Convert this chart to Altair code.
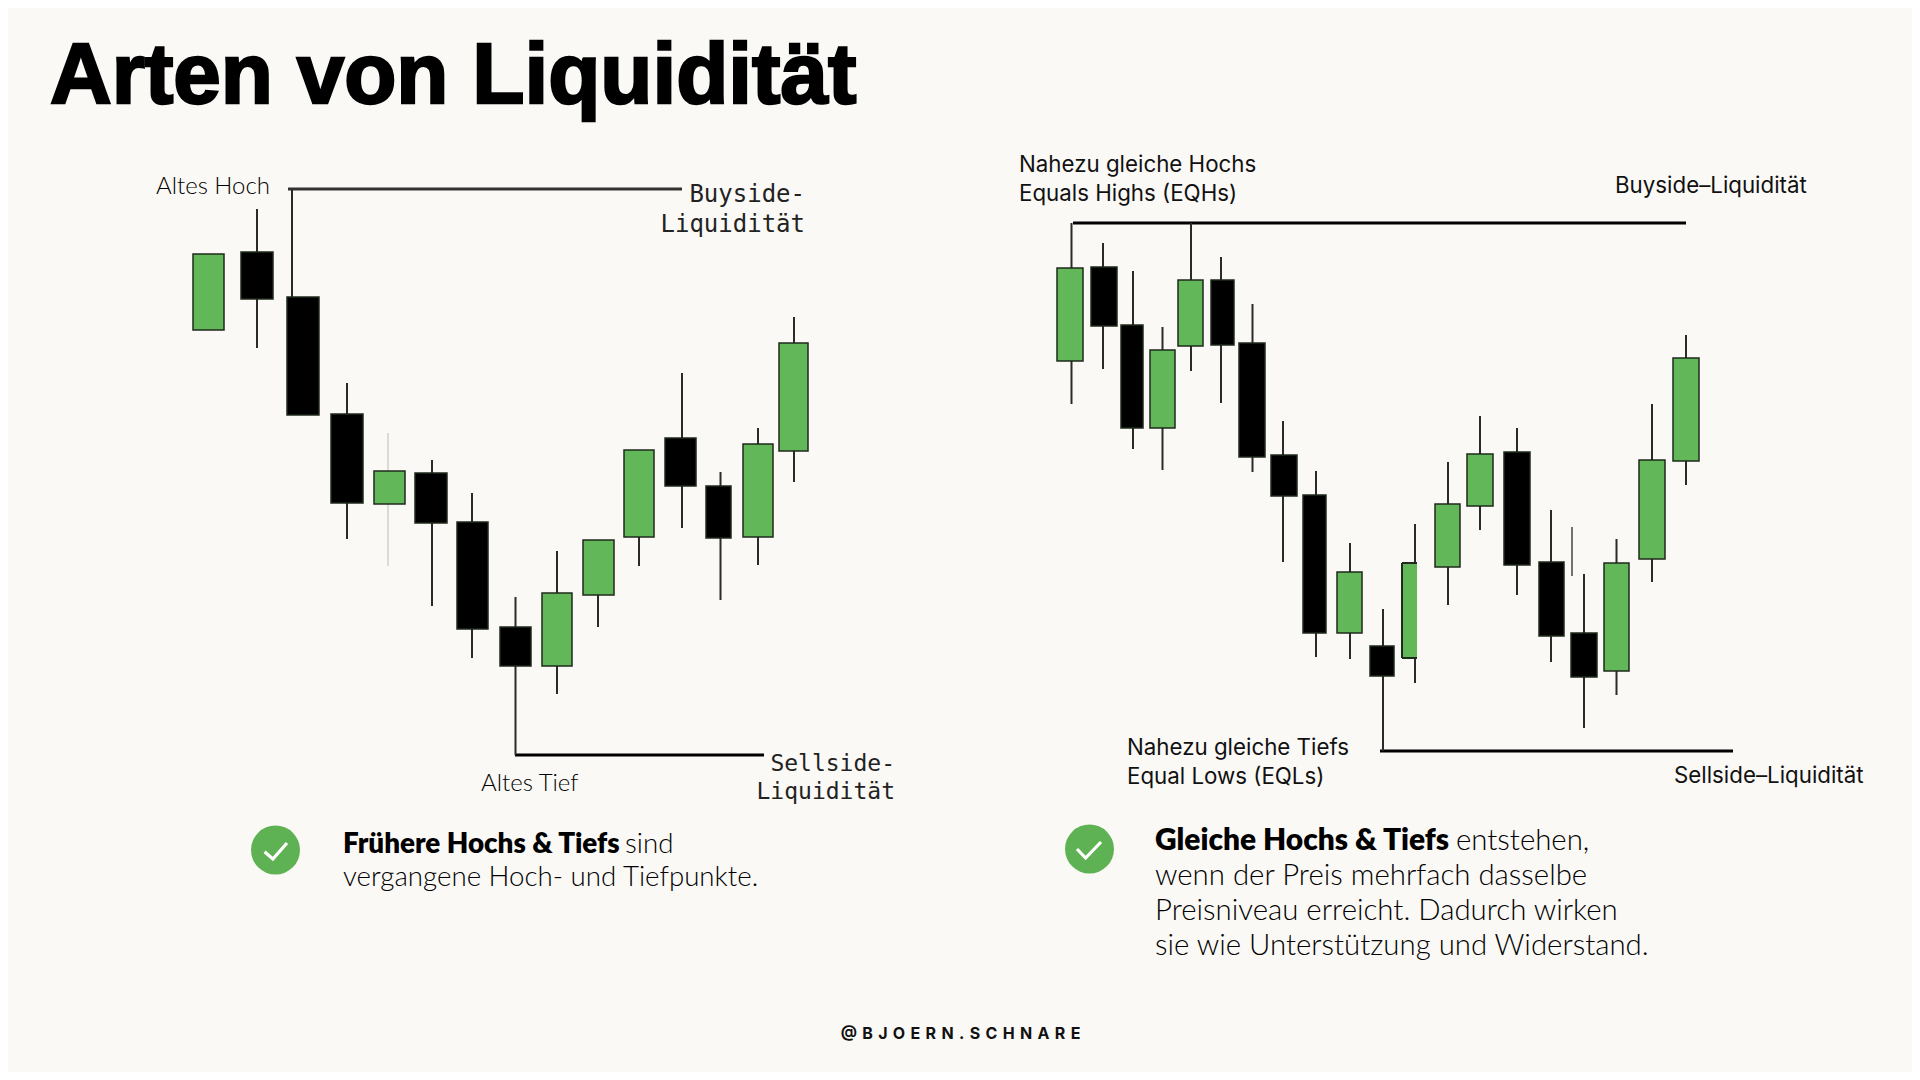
import altair as alt
import pandas as pd

BG = "#FBF9F6"
GREEN = "#62B758"
CIRCLE = "#5FB254"

# left chart candles
l_left   = [193, 241, 287, 331, 374, 415, 457, 500, 542, 583, 624, 665, 706, 743, 779]
l_right  = [224, 273, 319, 363, 405, 447, 488, 531, 572, 614, 654, 696, 731, 773, 808]
l_wick   = [208, 257, 292, 347, 388, 432, 472, 515.5, 557, 598, 639, 682, 720.5, 758, 794]
l_top    = [254, 252, 297, 414, 471, 473, 522, 627, 593, 540, 450, 438, 486, 444, 343]
l_bottom = [330, 299, 415, 503, 504, 523, 629, 666, 666, 595, 537, 486, 538, 537, 451]
l_high   = [254, 209, 189, 383, 471, 460, 493, 597, 551, 540, 450, 373, 472, 428, 317]
l_low    = [330, 348, 415, 539, 504, 606, 658, 755, 694, 627, 566, 528, 600, 565, 482]
l_up     = [1, 0, 0, 0, 1, 0, 0, 0, 1, 1, 1, 0, 0, 1, 1]

# right chart candles
r_left   = [1057, 1091, 1121, 1150, 1178, 1211, 1239, 1271, 1303, 1337, 1370, 1435, 1467, 1504, 1539, 1571, 1604, 1639, 1673]
r_right  = [1083, 1117, 1143, 1175, 1203, 1234, 1265, 1297, 1326, 1362, 1394, 1460, 1493, 1530, 1564, 1597, 1629, 1665, 1699]
r_wick   = [1071.5, 1103, 1133, 1162.5, 1191, 1221, 1252.5, 1283, 1316, 1350, 1383, 1448, 1480, 1517, 1551, 1584, 1616.5, 1652, 1686]
r_top    = [268, 267, 325, 350, 280, 280, 343, 455, 495, 572, 646, 504, 454, 452, 562, 633, 563, 460, 358]
r_bottom = [361, 326, 428, 428, 346, 345, 457, 496, 633, 633, 676, 567, 506, 565, 636, 677, 671, 559, 461]
r_high   = [223, 243, 271, 327, 223, 257, 304, 421, 471, 543, 609, 462, 416, 428, 510, 574, 539, 404, 335]
r_low    = [404, 369, 449, 470, 371, 403, 472, 562, 657, 659, 751, 605, 530, 595, 662, 728, 695, 582, 485]
r_up     = [1, 0, 0, 1, 1, 0, 0, 0, 0, 1, 0, 1, 1, 0, 0, 0, 1, 1, 1]

# cut-off candle in the right chart
cut_left, cut_right, cut_top, cut_bottom, cut_wick, cut_high, cut_low = 1402, 1417, 563, 658, 1415, 524, 683

# faint stray wicks
faint_x    = [388, 1572]
faint_top  = [433, 527]
faint_low  = [566, 576]
faint_col  = ["#CFCFCB", "#444444"]

# level lines
level_x1  = [288, 515, 1073, 1380]
level_x2  = [682, 764, 1686, 1733]
level_y   = [189, 755, 223, 751]
level_col = ["#333333", "#000000", "#000000", "#000000"]

# check badges
badge_x = [275.5, 1089.5]
badge_y = [850, 849]
check_x = [[264.6, 272.9, 287], [1077, 1085.6, 1101]]
check_y = [[851.7, 859, 843], [849, 858, 842]]

XS = alt.Scale(domain=[8, 1912], nice=False, zero=False)
YS = alt.Scale(domain=[1072, 8], nice=False, zero=False)


def X(f):
    return alt.X(f, type="quantitative", scale=XS, axis=None)


def Y(f):
    return alt.Y(f, type="quantitative", scale=YS, axis=None)


def candles(left, right, wick, top, bottom, high, low, up):
    df = pd.DataFrame(dict(left=left, right=right, wick=wick, top=top, bottom=bottom, high=high, low=low, up=up))
    wicks = alt.Chart(df[df.high < df.low]).mark_rule(strokeWidth=2, color="#2A2A2A").encode(
        x=X("wick"), y=Y("high"), y2="low"
    )
    bodies = alt.Chart(df).mark_rect(strokeWidth=1.5, stroke="#1F2A1C").encode(
        x=X("left"), x2="right", y=Y("top"), y2="bottom",
        fill=alt.Fill("up:N", scale=alt.Scale(domain=[0, 1], range=["#000000", GREEN]), legend=None),
    )
    return [wicks, bodies]


def label(lines, xs, ys, size, font, weight=400, align="left", color="#111111", stroke=None):
    df = pd.DataFrame(dict(t=lines, x=xs, y=ys))
    kw = dict(fontSize=size, font=font, fontWeight=weight, align=align, baseline="alphabetic", color=color)
    if stroke:
        kw.update(stroke=color, strokeWidth=stroke)
    return alt.Chart(df).mark_text(**kw).encode(x=X("x"), y=Y("y"), text="t:N")


layers = []

# level lines
lv = pd.DataFrame(dict(a=level_x1, b=level_x2, y=level_y, c=level_col))
layers.append(
    alt.Chart(lv).mark_rule(strokeWidth=3).encode(
        x=X("a"), x2="b", y=Y("y"), color=alt.Color("c:N", scale=None)
    )
)

# faint wicks
fw = pd.DataFrame(dict(x=faint_x, a=faint_top, b=faint_low, c=faint_col))
layers.append(
    alt.Chart(fw).mark_rule(strokeWidth=1.5).encode(
        x=X("x"), y=Y("a"), y2="b", color=alt.Color("c:N", scale=None)
    )
)

layers += candles(l_left, l_right, l_wick, l_top, l_bottom, l_high, l_low, l_up)
layers += candles(r_left, r_right, r_wick, r_top, r_bottom, r_high, r_low, r_up)

# cut-off candle
cut = pd.DataFrame(dict(l=[cut_left], r=[cut_right], t=[cut_top], b=[cut_bottom], w=[cut_wick], h=[cut_high], lo=[cut_low]))
layers.append(alt.Chart(cut).mark_rule(strokeWidth=2, color="#2A2A2A").encode(x=X("w"), y=Y("h"), y2="lo"))
layers.append(alt.Chart(cut).mark_rect(color=GREEN).encode(x=X("l"), x2="r", y=Y("t"), y2="b"))
layers.append(alt.Chart(cut).mark_rule(strokeWidth=2, color="#1F2A1C").encode(x=X("l"), y=Y("t"), y2="b"))
layers.append(alt.Chart(cut).mark_rule(strokeWidth=2, color="#1F2A1C").encode(x=X("l"), x2="r", y=Y("t")))
layers.append(alt.Chart(cut).mark_rule(strokeWidth=2, color="#1F2A1C").encode(x=X("l"), x2="r", y=Y("b")))

# badges
bd = pd.DataFrame(dict(x=badge_x, y=badge_y))
layers.append(alt.Chart(bd).mark_point(filled=True, size=2400, shape="circle", color=CIRCLE, opacity=1).encode(x=X("x"), y=Y("y")))
for i, (cx, cy) in enumerate(zip(check_x, check_y)):
    cd = pd.DataFrame(dict(x=cx, y=cy, o=[0, 1, 2]))
    layers.append(
        alt.Chart(cd).mark_line(color="white", strokeWidth=3.2).encode(x=X("x"), y=Y("y"), order="o:Q")
    )

LATO = "Lato"
INTER = "Inter"
MONO = "DejaVu Sans Mono"

layers.append(label(["Arten von Liquidität"], [50], [103], 85.4, "Liberation Sans", 700, color="#000000", stroke=2.4))

layers.append(label(["Altes Hoch", "Altes Tief"], [156, 481], [194, 791], 24, LATO, 300, color="#000000"))
layers.append(label(["Buyside-", "Liquidität"], [805, 805], [202, 232], 24, MONO, 400, align="right", color="#222222"))
layers.append(label(["Sellside-", "Liquidität"], [895, 895], [771, 799], 23, MONO, 400, align="right", color="#222222"))

layers.append(label(
    ["Nahezu gleiche Hochs", "Equals Highs (EQHs)", "Nahezu gleiche Tiefs", "Equal Lows (EQLs)",
     "Buyside–Liquidität", "Sellside–Liquidität"],
    [1019, 1019, 1127, 1127, 1615, 1674],
    [172, 201, 755, 784, 193, 783],
    22.3, INTER, 400,
))

layers.append(label(["Frühere Hochs & Tiefs"], [343], [853], 27.8, LATO, 800, color="#000000"))
layers.append(label(["sind", "vergangene Hoch- und Tiefpunkte."], [625, 343], [853, 886], 27.7, LATO, 300, color="#000000"))
layers.append(label(["Gleiche Hochs & Tiefs"], [1155], [850], 29.9, LATO, 800, color="#000000"))
layers.append(label(
    ["entstehen,", "wenn der Preis mehrfach dasselbe", "Preisniveau erreicht. Dadurch wirken",
     "sie wie Unterstützung und Widerstand."],
    [1456, 1155, 1155, 1155], [850, 885, 920, 955], 29.4, LATO, 300, color="#000000",
))

layers.append(label(["@\u2004B\u2004J\u2004O\u2004E\u2004R\u2004N\u2004.\u2004S\u2004C\u2004H\u2004N\u2004A\u2004R\u2004E"],
                    [960.5], [1039], 16, INTER, 700, align="center", color="#111111"))

chart = alt.layer(*layers).properties(
    width=1904, height=1064, background=BG, padding=0,
    autosize=alt.AutoSizeParams(type="none"),
).configure_view(stroke=None)

chart.save("out.html", embed_options={"renderer": "svg", "actions": False})
